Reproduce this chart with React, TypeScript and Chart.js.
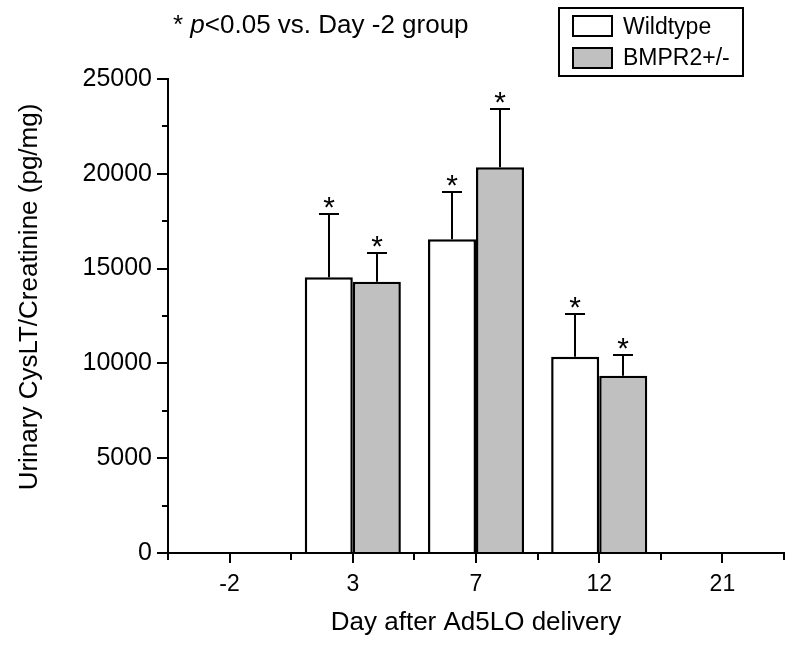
import React, { useEffect, useRef } from "react";
import { Chart, registerables } from "chart.js";

Chart.register(...registerables);

// ---- data ----
const days = ["-2", "3", "7", "12", "21"];
const wildtype: (number | null)[] = [null, 14550, 16550, 10350, null];
const wildtypeSem: (number | null)[] = [null, 3330, 2490, 2270, null];
const bmpr2: (number | null)[] = [null, 14300, 20350, 9350, null];
const bmpr2Sem: (number | null)[] = [null, 1520, 3070, 1100, null];
const wildtypeSignificant = [false, true, true, true, false];
const bmpr2Significant = [false, true, true, true, false];
const yTickValues = [0, 5000, 10000, 15000, 20000, 25000];
const yMinorTickValues = [2500, 7500, 12500, 17500, 22500];
const seriesNames = ["Wildtype", "BMPR2+/-"];
const xTitle = "Day after Ad5LO delivery";
const yTitle = "Urinary CysLT/Creatinine (pg/mg)";
const noteStar = "* ";
const noteItalic = "p";
const noteRest = "<0.05 vs. Day -2 group";

const FONT = 'Arial, "Liberation Sans", Helvetica, sans-serif';

const semBySeries = [wildtypeSem, bmpr2Sem];
const sigBySeries = [wildtypeSignificant, bmpr2Significant];

const decorPlugin = {
  id: "decor",
  afterDatasetsDraw(chart: any) {
    const ctx = chart.ctx;
    const yScale = chart.scales.y;
    ctx.save();
    ctx.strokeStyle = "#000";
    ctx.fillStyle = "#000";
    ctx.lineWidth = 2;
    chart.data.datasets.forEach((ds: any, i: number) => {
      const meta = chart.getDatasetMeta(i);
      ds.data.forEach((v: number | null, j: number) => {
        const sem = semBySeries[i][j];
        if (v == null || sem == null) return;
        const bar = meta.data[j];
        const x = Math.round(bar.x);
        const yTop = yScale.getPixelForValue(v);
        const yErr = Math.round(yScale.getPixelForValue(v + sem));
        ctx.beginPath();
        ctx.moveTo(x, yTop);
        ctx.lineTo(x, yErr);
        ctx.moveTo(x - 10, yErr);
        ctx.lineTo(x + 10, yErr);
        ctx.stroke();
        if (sigBySeries[i][j]) {
          ctx.font = `30px ${FONT}`;
          ctx.textAlign = "center";
          ctx.textBaseline = "alphabetic";
          ctx.fillText("*", x, yErr + 3);
        }
      });
    });
    ctx.restore();
  },
  afterDraw(chart: any) {
    const ctx = chart.ctx;
    const { x: xScale, y: yScale } = chart.scales;
    const area = chart.chartArea;
    ctx.save();
    ctx.strokeStyle = "#000";
    ctx.fillStyle = "#000";
    ctx.lineWidth = 2;
    // minor ticks
    ctx.beginPath();
    yMinorTickValues.forEach((v) => {
      const y = Math.round(yScale.getPixelForValue(v));
      ctx.moveTo(area.left - 6, y);
      ctx.lineTo(area.left, y);
    });
    for (let i = 0; i <= days.length; i++) {
      const x = Math.round(xScale.getPixelForValue(i - 0.5));
      ctx.moveTo(x, area.bottom);
      ctx.lineTo(x, area.bottom + 7);
    }
    ctx.stroke();

    // y title
    ctx.save();
    ctx.translate(30, 297);
    ctx.rotate(-Math.PI / 2);
    ctx.font = `26px ${FONT}`;
    ctx.textAlign = "center";
    ctx.textBaseline = "middle";
    ctx.fillText(yTitle, 0, 0);
    ctx.restore();

    // note
    ctx.textBaseline = "alphabetic";
    ctx.textAlign = "left";
    let nx = 173;
    const ny = 33;
    ctx.font = `26px ${FONT}`;
    ctx.fillText(noteStar, nx, ny);
    nx += ctx.measureText(noteStar).width;
    ctx.font = `italic 26px ${FONT}`;
    ctx.fillText(noteItalic, nx, ny);
    nx += ctx.measureText(noteItalic).width;
    ctx.font = `26px ${FONT}`;
    ctx.fillText(noteRest, nx, ny);

    // legend
    ctx.lineWidth = 2;
    ctx.strokeRect(559, 8, 184, 68);
    chart.data.datasets.forEach((ds: any, i: number) => {
      const top = 16 + i * 32;
      ctx.fillStyle = ds.backgroundColor;
      ctx.fillRect(573, top, 39, 20);
      ctx.strokeRect(573, top, 39, 20);
      ctx.fillStyle = "#000";
      ctx.font = `23px ${FONT}`;
      ctx.textBaseline = "alphabetic";
      ctx.fillText(ds.label, 623, 34 + i * 31);
    });
    ctx.restore();
  },
};

export default function App() {
  const canvasRef = useRef<HTMLCanvasElement | null>(null);

  useEffect(() => {
    if (!canvasRef.current) return;
    Chart.defaults.font.family = FONT;
    const chart = new Chart(canvasRef.current, {
      type: "bar",
      data: {
        labels: days,
        datasets: [
          {
            label: seriesNames[0],
            data: wildtype,
            backgroundColor: "#ffffff",
            borderColor: "#000000",
            borderWidth: 2.5,
            categoryPercentage: 0.78,
            barPercentage: 1.0,
          },
          {
            label: seriesNames[1],
            data: bmpr2,
            backgroundColor: "#c0c0c0",
            borderColor: "#000000",
            borderWidth: 2.5,
            categoryPercentage: 0.78,
            barPercentage: 1.0,
          },
        ],
      },
      options: {
        responsive: false,
        animation: false,
        devicePixelRatio: 1,
        layout: { padding: { top: 79, right: 16, left: 0, bottom: 0 } },
        plugins: {
          legend: { display: false },
          tooltip: { enabled: false },
          title: { display: false },
        },
        scales: {
          x: {
            type: "category",
            offset: true,
            grid: {
              offset: false,
              display: true,
              drawOnChartArea: false,
              drawTicks: true,
              tickLength: 10,
              color: "#000",
              lineWidth: 2,
            },
            border: { display: true, color: "#000", width: 2 },
            ticks: {
              color: "#000",
              font: { size: 23, family: FONT },
              padding: 8,
              maxRotation: 0,
              autoSkip: false,
            },
            title: {
              display: true,
              text: xTitle,
              color: "#000",
              font: { size: 26, family: FONT },
              padding: { top: 0, bottom: 13 },
            },
            afterFit: (s: any) => {
              s.height = 98;
            },
          },
          y: {
            min: 0,
            max: 25000,
            afterBuildTicks: (s: any) => {
              s.ticks = yTickValues.map((v) => ({ value: v }));
            },
            grid: {
              display: true,
              drawOnChartArea: false,
              drawTicks: true,
              tickLength: 11,
              color: "#000",
              lineWidth: 2,
            },
            border: { display: true, color: "#000", width: 2 },
            ticks: {
              color: "#000",
              font: { size: 25, family: FONT },
              padding: 5,
              callback: (v: any) => String(v),
            },
            afterFit: (s: any) => {
              s.width = 168;
            },
          },
        },
      },
      plugins: [decorPlugin],
    } as any);
    return () => chart.destroy();
  }, []);

  return (
    <div style={{ position: "absolute", left: 0, top: 0, width: 800, height: 651, background: "#fff" }}>
      <canvas ref={canvasRef} width={800} height={651} style={{ display: "block" }} />
    </div>
  );
}
